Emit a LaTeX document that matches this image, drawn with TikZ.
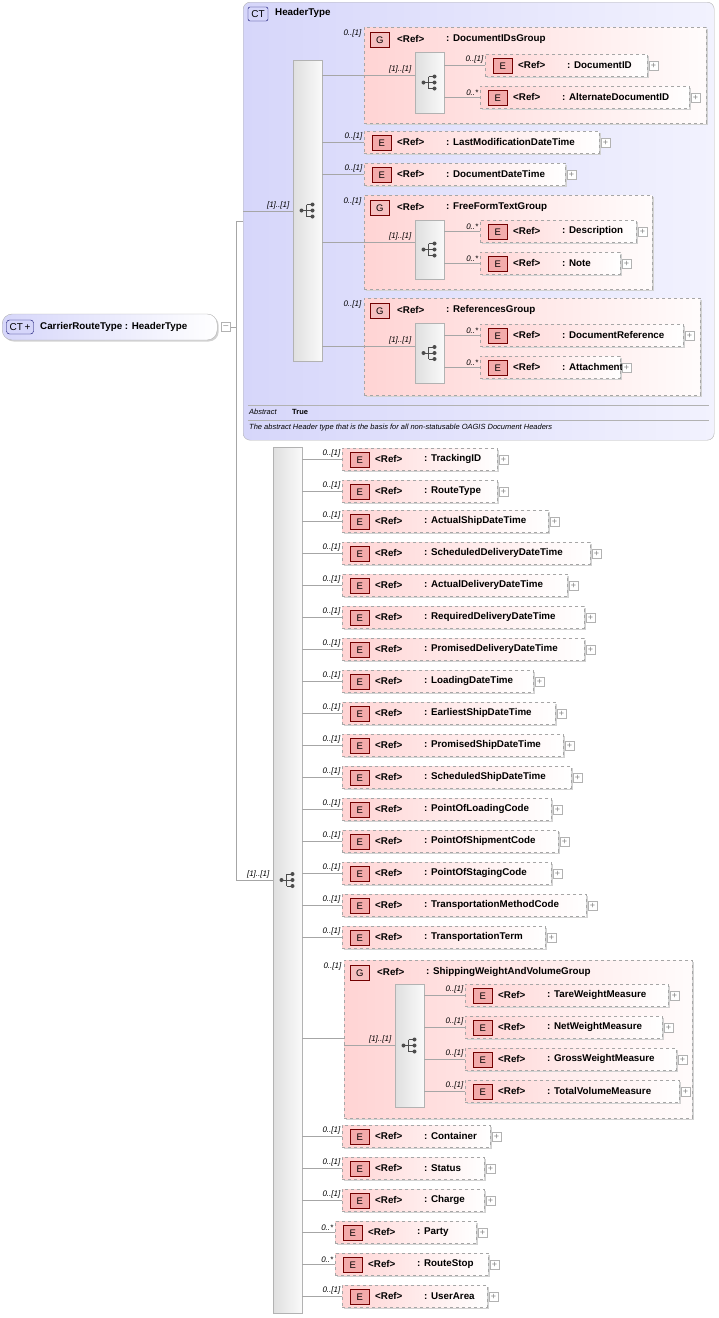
\documentclass[tikz,border=0pt]{standalone}
\usepackage{fontspec}
\setmainfont{Liberation Sans}
\usetikzlibrary{shadows}
\definecolor{pk}{RGB}{255,212,212}
\definecolor{pkd}{RGB}{240,150,150}
\definecolor{lav}{RGB}{214,214,250}
\definecolor{lavl}{RGB}{242,242,254}
\tikzset{
 elem/.style={draw=gray!70,dashed,left color=pk,right color=white,anchor=west,minimum height=22pt,inner sep=0pt,
   drop shadow={shadow xshift=2pt,shadow yshift=-2pt,fill=gray!35,opacity=1}},
 grp/.style={draw=gray!70,dashed,left color=pk,right color=white!92!pk,anchor=north west,inner sep=0pt,
   drop shadow={shadow xshift=2pt,shadow yshift=-2pt,fill=gray!35,opacity=1}},
 eicon/.style={draw=red!45!black,fill=pkd!80,minimum width=19pt,minimum height=15pt,inner sep=0pt,font=\fontsize{9.5}{9.5}\selectfont,anchor=west},
 txt/.style={font=\bfseries\fontsize{9.8}{11}\selectfont,inner sep=0pt,anchor=west},
 card/.style={font=\itshape\fontsize{8}{9}\selectfont,inner sep=0.5pt,anchor=south east},
 plus/.style={draw=gray!60,fill=white,minimum size=9pt,inner sep=0pt,font=\fontsize{9}{9}\selectfont,text=gray},
 bar/.style={draw=gray!60,left color=gray!25,right color=gray!4,anchor=north west,inner sep=0pt},
 conn/.style={draw=gray!70,line width=0.6pt},
}
\newcommand\SeqIcon[2]{\begin{scope}[shift={(#1,#2)},line width=1pt,draw=black!70,fill=black!70]
 \fill (-7,0) circle (2); \draw (-7,0)--(-2,0) (-2,-6)--(-2,6) (-2,-6)--(4,-6) (-2,6)--(4,6) (-2,0)--(4,0);
 \fill (4,-6) circle (2) (4,0) circle (2) (4,6) circle (2);\end{scope}}
% \El{name}{x}{yc}{xright}{label}{card}{parentbar}
\newcommand\El[7]{%
 \node[elem,minimum width={(#4-#2)*1pt}] (#1) at (#2,#3) {};
 \node[eicon] at ([xshift=8pt,yshift=-1pt]#1.west) {E};
 \node[txt] at ([xshift=33pt]#1.west) {<Ref>};
 \node[txt] at ([xshift=82pt]#1.west) {: #5};
 \node[plus] at ([xshift=6pt,yshift=-1pt]#1.east) {+};
 \node[card] at ([xshift=-1pt,yshift=1pt]#1.west) {#6};
 \draw[conn] (#7.east |- #1.west) -- (#1.west);}
% \Grp{name}{x1}{y1}{x2}{y2}{label}{card}
\newcommand\Grp[7]{%
 \node[grp,minimum width={(#4-#2)*1pt},minimum height={(#5-#3)*1pt}] (#1) at (#2,#3) {};
 \node[eicon,fill=pkd!60] at (#2+6,#3+13) {G};
 \node[txt] at (#2+33,#3+12) {<Ref>};
 \node[txt] at (#2+82,#3+12) {: #6};
 \node[card] at (#2-2,#3+11) {#7};}
% \Seq{name}{x1}{y1}{x2}{y2}
\newcommand\Seq[5]{%
 \node[bar,minimum width={(#4-#2)*1pt},minimum height={(#5-#3)*1pt}] (#1) at (#2,#3) {};
 \SeqIcon{#2/2+#4/2+1}{#3/2+#5/2}}
\begin{document}
\begin{tikzpicture}[x=1pt,y=-1pt]
\useasboundingbox (0,0) rectangle (719,1318);
% Header CT box
\node[draw=gray!60,rounded corners=7pt,left color=lav,right color=lavl,anchor=north west,minimum width=471pt,minimum height=438pt,inner sep=0pt] (hdr) at (243,2) {};
\node[draw=blue!40!black,fill=lav,rounded corners=2pt,minimum width=20pt,minimum height=14pt,inner sep=0pt,font=\fontsize{10}{10}\selectfont] (cticon) at (258,14) {CT};
\node[txt] at (275,13) {HeaderType};
\draw[gray!60] (248,405) -- (709,405) (248,420) -- (709,420);
\node[txt,font=\itshape\fontsize{7.5}{8}\selectfont] at (249,412) {Abstract};
\node[txt,font=\bfseries\fontsize{7.5}{8}\selectfont] at (292,412) {True};
\node[txt,font=\itshape\fontsize{7.5}{8}\selectfont] at (249,428) {The abstract Header type that is the basis for all non-statusable OAGIS Document Headers};
% Root
\node[draw=gray!60,rounded corners=10pt,left color=lav,right color=white,anchor=west,minimum width=215pt,minimum height=26pt,inner sep=0pt,
 drop shadow={shadow xshift=1.5pt,shadow yshift=-1.5pt,fill=gray!35,opacity=1}] (root) at (2,327) {};
\node[draw=blue!40!black,fill=lav,rounded corners=3pt,minimum width=27pt,minimum height=14pt,inner sep=0pt,font=\fontsize{10}{10}\selectfont] at (20,327) {CT\,+};
\node[txt] at (40,327) {CarrierRouteType : HeaderType};
\node[plus] (rminus) at (226,327) {--};
% Header sequence
\Seq{hbar}{293}{60}{322}{361}
\coordinate (j1) at (236,221);
\coordinate (j2) at (236,880);
\draw[conn] (rminus.east) -- (236,327);
\draw[conn] (236,221) -- (243,221);
\draw[conn] (j1) -- (j2);
\draw[conn] (243,211) -- (hbar.west |- 0,211);
\node[card] at (290,210) {[1]..[1]};
% DocumentIDsGroup
\Grp{g1}{364}{27}{706}{123}{DocumentIDsGroup}{0..[1]}
\Seq{ib1}{415}{52}{444}{113}
\draw[conn] (hbar.east |- 0,75) -- (ib1.west |- 0,75);
\node[card] at (412,74) {[1]..[1]};
\El{docid}{485}{65}{647}{DocumentID}{0..[1]}{ib1}
\El{altdoc}{480}{97}{689}{AlternateDocumentID}{0..*}{ib1}
\El{lastmod}{364}{142}{599}{LastModificationDateTime}{0..[1]}{hbar}
\El{docdt}{364}{174}{565}{DocumentDateTime}{0..[1]}{hbar}
% FreeFormTextGroup
\Grp{g2}{364}{195}{652}{289}{FreeFormTextGroup}{0..[1]}
\Seq{ib2}{415}{220}{444}{279}
\draw[conn] (hbar.east |- 0,242) -- (ib2.west |- 0,242);
\node[card] at (412,241) {[1]..[1]};
\El{desc}{480}{231}{636}{Description}{0..*}{ib2}
\El{note}{480}{263}{620}{Note}{0..*}{ib2}
% ReferencesGroup
\Grp{g3}{364}{298}{700}{395}{ReferencesGroup}{0..[1]}
\Seq{ib3}{415}{323}{444}{383}
\draw[conn] (hbar.east |- 0,346) -- (ib3.west |- 0,346);
\node[card] at (412,345) {[1]..[1]};
\El{docref}{480}{335}{683}{DocumentReference}{0..*}{ib3}
\El{attach}{480}{367}{620}{Attachment}{0..*}{ib3}
% Main sequence
\Seq{mbar}{273}{447}{302}{1313}
\draw[conn] (j2) -- (mbar.west |- j2);
\node[card] at (270,879) {[1]..[1]};
\El{e1}{342}{459}{497}{TrackingID}{0..[1]}{mbar}
\El{e2}{342}{491}{497}{RouteType}{0..[1]}{mbar}
\El{e3}{342}{521}{548}{ActualShipDateTime}{0..[1]}{mbar}
\El{e4}{342}{553}{590}{ScheduledDeliveryDateTime}{0..[1]}{mbar}
\El{e5}{342}{585}{567}{ActualDeliveryDateTime}{0..[1]}{mbar}
\El{e6}{342}{617}{584}{RequiredDeliveryDateTime}{0..[1]}{mbar}
\El{e7}{342}{649}{584}{PromisedDeliveryDateTime}{0..[1]}{mbar}
\El{e8}{342}{681}{533}{LoadingDateTime}{0..[1]}{mbar}
\El{e9}{342}{713}{555}{EarliestShipDateTime}{0..[1]}{mbar}
\El{e10}{342}{745}{563}{PromisedShipDateTime}{0..[1]}{mbar}
\El{e11}{342}{777}{571}{ScheduledShipDateTime}{0..[1]}{mbar}
\El{e12}{342}{809}{551}{PointOfLoadingCode}{0..[1]}{mbar}
\El{e13}{342}{841}{558}{PointOfShipmentCode}{0..[1]}{mbar}
\El{e14}{342}{873}{551}{PointOfStagingCode}{0..[1]}{mbar}
\El{e15}{342}{905}{586}{TransportationMethodCode}{0..[1]}{mbar}
\El{e16}{342}{937}{545}{TransportationTerm}{0..[1]}{mbar}
% ShippingWeightAndVolumeGroup
\Grp{g4}{344}{960}{692}{1118}{ShippingWeightAndVolumeGroup}{0..[1]}
\Seq{ib4}{395}{984}{424}{1107}
\draw[conn] (mbar.east |- 0,1038) -- (344,1038);
\draw[conn] (344,1045) -- (ib4.west |- 0,1045);
\node[card] at (392,1044) {[1]..[1]};
\El{w1}{465}{995}{668}{TareWeightMeasure}{0..[1]}{ib4}
\El{w2}{465}{1027}{662}{NetWeightMeasure}{0..[1]}{ib4}
\El{w3}{465}{1059}{676}{GrossWeightMeasure}{0..[1]}{ib4}
\El{w4}{465}{1091}{679}{TotalVolumeMeasure}{0..[1]}{ib4}
\El{e17}{342}{1136}{490}{Container}{0..[1]}{mbar}
\El{e18}{342}{1168}{484}{Status}{0..[1]}{mbar}
\El{e19}{342}{1200}{484}{Charge}{0..[1]}{mbar}
\El{e20}{335}{1232}{476}{Party}{0..*}{mbar}
\El{e21}{335}{1264}{488}{RouteStop}{0..*}{mbar}
\El{e22}{342}{1296}{487}{UserArea}{0..[1]}{mbar}
\end{tikzpicture}
\end{document}
